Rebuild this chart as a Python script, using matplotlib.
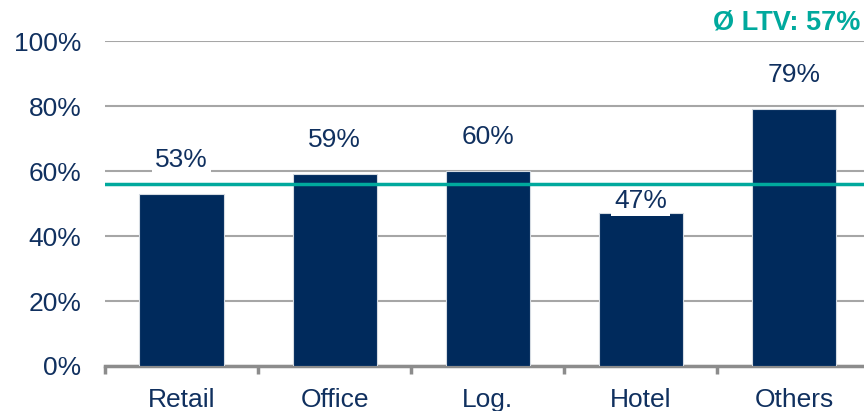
import numpy as np
import matplotlib.pyplot as plt
from matplotlib.ticker import FixedLocator

# ---------- DATA ----------
categories = ["Retail", "Office", "Log.", "Hotel", "Others"]
ltv = [53, 59, 60, 47, 79]
avg_ltv = 56
avg_label = "Ø LTV: 57%"
yticks = [0, 20, 40, 60, 80, 100]

NAVY = "#002a5c"
TEXT = "#10305f"
TEAL = "#00a99d"
GRID = "#a6a6a6"

plt.rcParams['font.family'] = ['Liberation Sans', 'DejaVu Sans']

fig = plt.figure(figsize=(8.64, 4.11), dpi=100)
ax = fig.add_axes([0.1215, 0.1095, 0.886, 0.7905])

x = np.arange(len(categories))
ax.bar(x, ltv, width=0.55, color=NAVY, edgecolor="#d5dbe2", linewidth=0.8, zorder=3)

for xi, v in zip(x, ltv):
    # label sits closer to the bar when the average line would cut through it
    off = 10.5
    if abs(v + off - avg_ltv) < 5:
        off = 3.8
    ax.text(xi, v + off, f"{v}%", ha="center", va="center", fontsize=19, color=TEXT,
            bbox=dict(facecolor="white", edgecolor="none", pad=2), zorder=4)

ax.axhline(avg_ltv, color=TEAL, lw=2.5, zorder=5)

ax.set_xlim(-0.5, len(categories) - 0.5)
ax.set_ylim(0, 100)
ax.set_yticks(yticks)
ax.set_yticklabels([f"{t}%" for t in yticks], fontsize=19, color=TEXT)
ax.yaxis.grid(True, color=GRID, lw=1.5, zorder=0)
ax.set_axisbelow(True)
ax.tick_params(axis="y", length=0, pad=17)

ax.set_xticks(x)
ax.set_xticklabels(categories, fontsize=19, color=TEXT)
ax.tick_params(axis="x", which="major", length=0, pad=16)
ax.xaxis.set_minor_locator(FixedLocator(np.arange(len(categories) + 1) - 0.5))
ax.tick_params(axis="x", which="minor", length=6, width=2.5, color="#8c8c8c")

for s in ["top", "right", "left"]:
    ax.spines[s].set_visible(False)
ax.spines["bottom"].set_color("#8c8c8c")
ax.spines["bottom"].set_linewidth(2.5)

fig.text(0.996, 0.945, avg_label, ha="right", va="center", fontsize=19.5,
         fontweight="bold", color=TEAL)

fig.savefig("out.png", dpi=100)
